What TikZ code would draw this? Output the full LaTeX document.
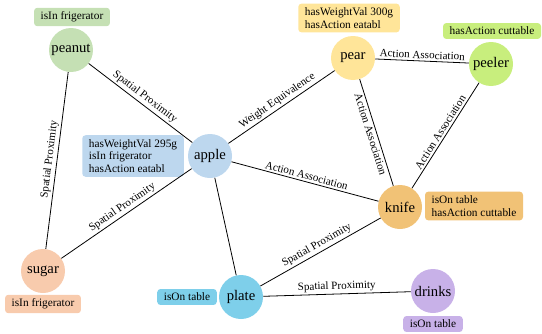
\documentclass[tikz,border=0pt]{standalone}
\usepackage{fontspec}
\setmainfont{Liberation Serif}

\definecolor{cPeanut}{RGB}{197,224,180}
\definecolor{cPear}{RGB}{255,229,153}
\definecolor{cPeeler}{RGB}{200,238,125}
\definecolor{cApple}{RGB}{189,215,238}
\definecolor{cKnife}{RGB}{241,194,118}
\definecolor{cSugar}{RGB}{248,203,173}
\definecolor{cPlate}{RGB}{126,207,234}
\definecolor{cDrinks}{RGB}{200,177,232}

\tikzset{
  obj/.style={circle, minimum size=33pt, inner sep=0pt, font=\fontsize{11}{13}\selectfont},
  attr/.style={rounded corners=2.5pt, align=left, inner xsep=5pt, inner ysep=3pt, font=\fontsize{8.5}{9.6}\selectfont},
  rel/.style={line width=0.6pt},
  lbl/.style={midway, sloped, inner sep=1.5pt, font=\fontsize{8.3}{10}\selectfont}
}

\begin{document}
\begin{tikzpicture}[x=0.75pt,y=0.75pt]
\useasboundingbox (0,0) rectangle (542,333);

% Object Nodes
\node [obj, fill=cPeanut] (peanut) at (71,283) {peanut};
\node [obj, fill=cPear] (pear) at (353,275) {pear};
\node [obj, fill=cPeeler] (peeler) at (491,269) {peeler};
\node [obj, fill=cApple] (apple) at (210,177) {apple};
\node [obj, fill=cKnife] (knife) at (400,126) {knife};
\node [obj, fill=cSugar] (sugar) at (43,62) {sugar};
\node [obj, fill=cPlate] (plate) at (241,36) {plate};
\node [obj, fill=cDrinks] (drinks) at (433,42) {drinks};

% Attribute Nodes
\node [attr, fill=cPeanut] (peanutattr) at (72,316) {isIn frigerator};
\node [attr, fill=cPear] (pearattr) at (349,315) {hasWeightVal 300g\\hasAction eatabl};
\node [attr, fill=cPeeler] (peelerattr) at (492,302) {hasAction cuttable};
\node [attr, fill=cApple] (appleattr) at (133,177) {hasWeightVal 295g\\isIn frigerator\\hasAction eatabl};
\node [attr, fill=cKnife] (knifeattr) at (474,127) {isOn table\\hasAction cuttable};
\node [attr, fill=cSugar] (sugarattr) at (43,29) {isIn frigerator};
\node [attr, fill=cPlate] (plateattr) at (187,36) {isOn table};
\node [attr, fill=cDrinks] (drinksattr) at (433,9) {isOn table};

% Relations
\draw [rel] (peanut) -- node [lbl, above] {Spatial Proximity} (apple);
\draw [rel] (peanut) -- node [lbl, above] {Spatial Proximity} (sugar);
\draw [rel] (apple) -- node [lbl, above] {Weight Equivalence} (pear);
\draw [rel] (pear) -- node [lbl, above] {Action Association} (peeler);
\draw [rel] (pear) -- node [lbl, below] {Action Association} (knife);
\draw [rel] (knife) -- node [lbl, above] {Action Association} (peeler);
\draw [rel] (apple) -- node [lbl, above] {Action Association} (knife);
\draw [rel] (sugar) -- node [lbl, above] {Spatial Proximity} (apple);
\draw [rel] (apple) -- (plate);
\draw [rel] (plate) -- node [lbl, above] {Spatial Proximity} (knife);
\draw [rel] (plate) -- node [lbl, above] {Spatial Proximity} (drinks);

\end{tikzpicture}
\end{document}
